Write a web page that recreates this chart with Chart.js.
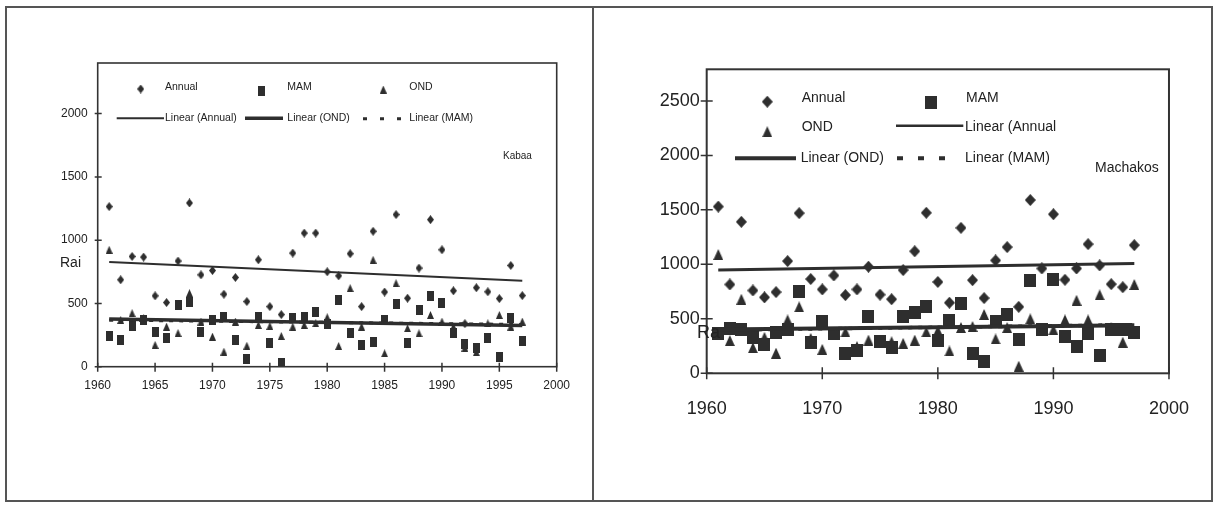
<!DOCTYPE html>
<html>
<head>
<meta charset="utf-8">
<script src="https://cdn.jsdelivr.net/npm/chart.js@4.4.0/dist/chart.umd.min.js"></script>
<style>
  body { margin: 0; background: #fff; width: 1214px; height: 507px; overflow: hidden; position: relative; }
  #frame { position: absolute; left: 5px; top: 6px; width: 1204px; height: 492px; border: 2px solid #555; z-index: 2; pointer-events: none; }
  #divider { position: absolute; left: 592px; top: 6px; width: 2px; height: 496px; background: #555; z-index: 2; }
  canvas { position: absolute; top: 0; z-index: 1; }
  #kabaa { left: 0; }
  #machakos { left: 594px; }
</style>
</head>
<body>
<div id="frame"></div>
<div id="divider"></div>
<canvas id="kabaa" width="594" height="507"></canvas>
<canvas id="machakos" width="620" height="507"></canvas>
<script>
// ---- data (mm of rain) ----
const years = [1961, 1962, 1963, 1964, 1965, 1966, 1967, 1968, 1969, 1970,
               1971, 1972, 1973, 1974, 1975, 1976, 1977, 1978, 1979, 1980,
               1981, 1982, 1983, 1984, 1985, 1986, 1987, 1988, 1989, 1990,
               1991, 1992, 1993, 1994, 1995, 1996, 1997];

const kabaaAnnual = [1265, 687, 871, 866, 560, 507, 835, 1294, 726, 760,
                     573, 705, 515, 845, 475, 412, 898, 1056, 1056, 750,
                     718, 893, 475, 1070, 590, 1202, 541, 779, 1162, 924,
                     600, 340, 624, 592, 538, 800, 562];
const kabaaMAM = [240, 211, 320, 370, 272, 230, 489, 515, 277, 370,
                  391, 211, 58, 396, 185, 26, 383, 396, 436, 340,
                  525, 269, 170, 192, 366, 497, 188, 452, 560, 505,
                  266, 182, 150, 224, 79, 383, 206];
const kabaaOND = [924, 370, 423, 383, 172, 317, 266, 581, 357, 238,
                  119, 357, 166, 330, 322, 243, 317, 330, 343, 391,
                  164, 621, 317, 845, 106, 660, 304, 264, 409, 357,
                  317, 150, 115, 343, 409, 317, 357];

const machakosAnnual = [1530, 815, 1390, 760, 697, 745, 1030, 1470, 865, 770,
                        898, 718, 770, 978, 722, 680, 947, 1120, 1473, 838,
                        648, 1335, 855, 690, 1036, 1158, 610, 1590, 962, 1460,
                        858, 962, 1185, 990, 818, 790, 1176];
const machakosMAM = [365, 415, 405, 330, 268, 370, 405, 752, 283, 474,
                     367, 183, 210, 519, 290, 236, 522, 558, 611, 300,
                     480, 640, 183, 107, 475, 542, 306, 850, 405, 862,
                     336, 244, 367, 160, 405, 405, 370];
const machakosOND = [1090, 300, 680, 235, 330, 185, 490, 610, 320, 220,
                     370, 380, 245, 305, 300, 290, 275, 305, 380, 390,
                     205, 420, 430, 540, 315, 420, 65, 500, 400, 400,
                     490, 670, 490, 720, 420, 285, 815];

// trend line end points, as drawn in the figure
const trendYears = [1961, 1997];
const kabaaTrendAnnual = [827, 680];
const kabaaTrendOND = [376, 326];
const kabaaTrendMAM = [368, 334];
const machakosTrendAnnual = [948, 1008];
const machakosTrendOND = [402, 440];
const machakosTrendMAM = [396, 446];

const kabaaXTicks = [1960, 1965, 1970, 1975, 1980, 1985, 1990, 1995, 2000];
const kabaaYTicks = [0, 500, 1000, 1500, 2000];
const machakosXTicks = [1960, 1970, 1980, 1990, 2000];
const machakosYTicks = [0, 500, 1000, 1500, 2000, 2500];

const FONT = '"Liberation Sans", Arial, sans-serif';
const INK = '#2e2e2e';

function pts(xs, ys) {
    return xs.map((x, i) => ({ x: x, y: ys[i] }));
}

function markerCanvas(shape, w, h) {
    let c = document.createElement('canvas');
    c.width = w;
    c.height = h;
    let g = c.getContext('2d');
    g.fillStyle = INK;
    g.beginPath();
    if (shape === 'diamond') {
        g.moveTo(w / 2, 0); g.lineTo(w, h / 2); g.lineTo(w / 2, h); g.lineTo(0, h / 2);
    } else if (shape === 'square') {
        g.rect(0, 0, w, h);
    } else {
        g.moveTo(w / 2, 0); g.lineTo(w, h); g.lineTo(0, h);
    }
    g.closePath();
    g.fill();
    return c;
}

// frame round the plot area, ticks crossing the axes, the legend and loose texts
const panelDecor = {
    id: 'panelDecor',
    afterDraw(chart, args, opts) {
        const ctx = chart.ctx;
        const a = chart.chartArea;
        const xs = chart.scales.x, ys = chart.scales.y;
        ctx.save();
        ctx.strokeStyle = '#333';
        ctx.lineWidth = opts.frameWidth;
        ctx.strokeRect(a.left, a.top, a.right - a.left, a.bottom - a.top);

        ctx.lineWidth = 1.5;
        ctx.beginPath();
        xs.ticks.forEach(t => {
            const px = xs.getPixelForValue(t.value);
            ctx.moveTo(px, a.bottom - opts.xTick[0]);
            ctx.lineTo(px, a.bottom + opts.xTick[1]);
        });
        ys.ticks.forEach(t => {
            const py = ys.getPixelForValue(t.value);
            ctx.moveTo(a.left - opts.yTick[0], py);
            ctx.lineTo(a.left + opts.yTick[1], py);
        });
        ctx.stroke();

        opts.items.forEach(it => {
            if (it.kind === 'marker') {
                const m = markerCanvas(it.shape, it.w, it.h);
                ctx.drawImage(m, it.x - it.w / 2, it.y - it.h / 2);
            } else if (it.kind === 'line') {
                ctx.strokeStyle = INK;
                ctx.lineWidth = it.width;
                ctx.setLineDash(it.dash || []);
                ctx.beginPath();
                ctx.moveTo(it.x1, it.y);
                ctx.lineTo(it.x2, it.y);
                ctx.stroke();
                ctx.setLineDash([]);
            } else {
                ctx.fillStyle = '#222';
                ctx.font = it.size + 'px ' + FONT;
                ctx.textBaseline = 'middle';
                ctx.textAlign = 'left';
                ctx.fillText(it.text, it.x, it.y);
            }
        });
        ctx.restore();
    }
};

function makePanel(id, p) {
    const dia = markerCanvas('diamond', p.dia[0], p.dia[1]);
    const sq = markerCanvas('square', p.sq[0], p.sq[1]);
    const tri = markerCanvas('triangle', p.tri[0], p.tri[1]);
    const ctx = document.getElementById(id).getContext('2d');
    return new Chart(ctx, {
        type: 'scatter',
        data: {
            datasets: [
                { label: 'Linear (Annual)', data: pts(trendYears, p.tAnnual), showLine: true,
                  borderColor: INK, borderWidth: p.lineW[0], pointRadius: 0 },
                { label: 'Linear (OND)', data: pts(trendYears, p.tOND), showLine: true,
                  borderColor: INK, borderWidth: p.lineW[1], pointRadius: 0 },
                { label: 'Linear (MAM)', data: pts(trendYears, p.tMAM), showLine: true,
                  borderColor: INK, borderWidth: p.lineW[2], borderDash: [4, 6], pointRadius: 0 },
                { label: 'Annual', data: pts(years, p.annual), pointStyle: dia, pointRadius: 5 },
                { label: 'MAM', data: pts(years, p.mam), pointStyle: sq, pointRadius: 5 },
                { label: 'OND', data: pts(years, p.ond), pointStyle: tri, pointRadius: 5 }
            ]
        },
        options: {
            responsive: false,
            animation: false,
            events: [],
            layout: { padding: p.padding },
            plugins: {
                legend: { display: false },
                tooltip: { enabled: false },
                panelDecor: { frameWidth: p.frameW, xTick: p.xTick, yTick: p.yTick, items: p.items }
            },
            scales: {
                x: {
                    type: 'linear', min: 1960, max: 2000,
                    afterBuildTicks: s => { s.ticks = p.xTicks.map(v => ({ value: v })); },
                    afterFit: s => { s.height = p.xH; },
                    grid: { display: false, drawTicks: false },
                    border: { display: false },
                    ticks: { padding: p.xPad, color: '#222', maxRotation: 0, autoSkip: false,
                             font: { family: FONT, size: p.tickSize }, callback: v => String(v) }
                },
                y: {
                    type: 'linear', min: 0, max: p.yMax,
                    afterBuildTicks: s => { s.ticks = p.yTicks.map(v => ({ value: v })); },
                    afterFit: s => { s.width = p.yW; },
                    grid: { display: false, drawTicks: false },
                    border: { display: false },
                    ticks: { padding: p.yPad, color: '#222',
                             font: { family: FONT, size: p.tickSize }, callback: v => String(v) }
                }
            }
        },
        plugins: [panelDecor]
    });
}

makePanel('kabaa', {
    annual: kabaaAnnual, mam: kabaaMAM, ond: kabaaOND,
    tAnnual: kabaaTrendAnnual, tOND: kabaaTrendOND, tMAM: kabaaTrendMAM,
    xTicks: kabaaXTicks, yTicks: kabaaYTicks, yMax: 2400,
    padding: { left: 0, top: 63, right: 37.3, bottom: 100.3 },
    xH: 40, yW: 97.7, xPad: 12, yPad: 10, tickSize: 12,
    dia: [7, 9], sq: [7, 10], tri: [7, 8], lineW: [2, 3.5, 3],
    frameW: 1.6, xTick: [4, 5], yTick: [3, 4],
    items: [
        { kind: 'marker', shape: 'diamond', x: 140.7, y: 89, w: 7, h: 9 },
        { kind: 'text', text: 'Annual', x: 165, y: 87, size: 10.5 },
        { kind: 'marker', shape: 'square', x: 261.7, y: 90.5, w: 7, h: 10 },
        { kind: 'text', text: 'MAM', x: 287.3, y: 87, size: 10.5 },
        { kind: 'marker', shape: 'triangle', x: 383.3, y: 89.5, w: 7, h: 8 },
        { kind: 'text', text: 'OND', x: 409.3, y: 87, size: 10.5 },
        { kind: 'line', x1: 116.7, x2: 164, y: 118.3, width: 2 },
        { kind: 'text', text: 'Linear (Annual)', x: 165, y: 118, size: 10.5 },
        { kind: 'line', x1: 245, x2: 283, y: 118.3, width: 3.5 },
        { kind: 'text', text: 'Linear (OND)', x: 287.3, y: 118, size: 10.5 },
        { kind: 'line', x1: 363, x2: 403, y: 118.8, width: 3, dash: [4, 13] },
        { kind: 'text', text: 'Linear (MAM)', x: 409.3, y: 118, size: 10.5 },
        { kind: 'text', text: 'Kabaa', x: 503, y: 156, size: 10 },
        { kind: 'text', text: 'Rai', x: 60, y: 263, size: 14 }
    ]
});

makePanel('machakos', {
    annual: machakosAnnual, mam: machakosMAM, ond: machakosOND,
    tAnnual: machakosTrendAnnual, tOND: machakosTrendOND, tMAM: machakosTrendMAM,
    xTicks: machakosXTicks, yTicks: machakosYTicks, yMax: 2790,
    padding: { left: 0, top: 69.3, right: 40.7, bottom: 83.7 },
    xH: 50, yW: 112.7, xPad: 25, yPad: 7, tickSize: 18,
    dia: [11, 12], sq: [12, 13], tri: [10, 11], lineW: [3, 4, 3.5],
    frameW: 2, xTick: [6, 6], yTick: [6, 6],
    items: [
        { kind: 'marker', shape: 'diamond', x: 173.3, y: 101.7, w: 11, h: 12 },
        { kind: 'text', text: 'Annual', x: 207.7, y: 98.3, size: 14 },
        { kind: 'marker', shape: 'square', x: 336.7, y: 102.3, w: 12, h: 13 },
        { kind: 'text', text: 'MAM', x: 372, y: 98.3, size: 14 },
        { kind: 'marker', shape: 'triangle', x: 173.3, y: 131.7, w: 10, h: 11 },
        { kind: 'text', text: 'OND', x: 207.7, y: 126.7, size: 14 },
        { kind: 'line', x1: 302, x2: 369.3, y: 125.7, width: 2.5 },
        { kind: 'text', text: 'Linear (Annual', x: 371, y: 126.7, size: 14 },
        { kind: 'line', x1: 141, x2: 202, y: 158.3, width: 4 },
        { kind: 'text', text: 'Linear (OND)', x: 206.7, y: 158, size: 14 },
        { kind: 'line', x1: 303, x2: 357, y: 158.3, width: 4, dash: [6, 15] },
        { kind: 'text', text: 'Linear (MAM)', x: 371, y: 158, size: 14 },
        { kind: 'text', text: 'Machakos', x: 501, y: 168.3, size: 14 },
        { kind: 'text', text: 'Ra', x: 103, y: 333, size: 18 }
    ]
});
</script>
</body>
</html>
